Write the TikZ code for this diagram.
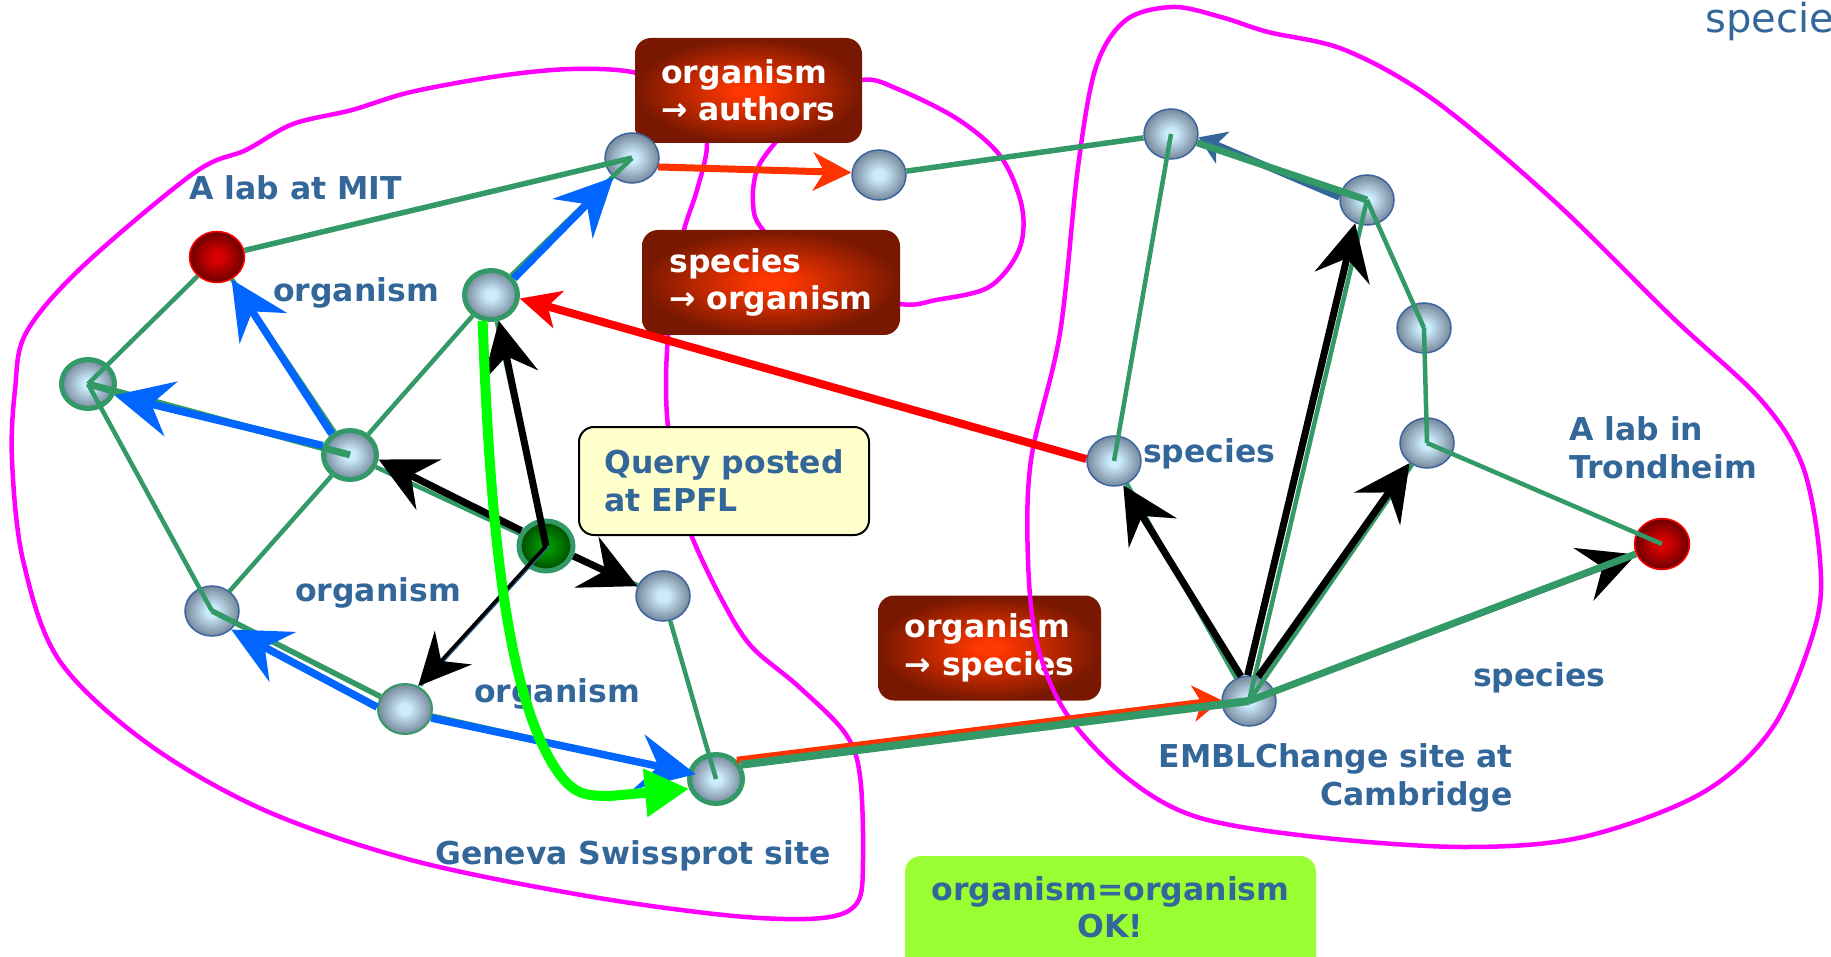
\documentclass[tikz,border=0pt]{standalone}
\usepackage{fontspec}
\setmainfont{DejaVu Sans}
\usetikzlibrary{arrows.meta,shapes.geometric}
\definecolor{ballin}{RGB}{204,236,252}
\definecolor{ballout}{RGB}{118,136,156}
\definecolor{redin}{RGB}{215,0,0}
\definecolor{redout}{RGB}{110,0,0}
\definecolor{dgin}{RGB}{0,150,0}
\definecolor{dgout}{RGB}{0,75,0}
\definecolor{boxin}{RGB}{255,55,0}
\definecolor{boxout}{RGB}{120,24,0}
\definecolor{nodeblue}{RGB}{60,100,160}
\definecolor{edgegreen}{RGB}{51,153,102}
\definecolor{arrowblue}{RGB}{0,102,255}
\definecolor{darkblue}{RGB}{51,102,153}
\definecolor{textblue}{RGB}{51,102,153}
\definecolor{orangered}{RGB}{255,51,0}
\definecolor{limegreen}{RGB}{0,255,0}
\definecolor{loopmag}{RGB}{255,0,255}
\definecolor{queryfill}{RGB}{255,255,204}
\definecolor{okfill}{RGB}{153,255,51}
\pgfdeclareradialshading{ballshade}{\pgfpoint{0bp}{0bp}}{color(0bp)=(ballin); color(5bp)=(ballin); color(25bp)=(ballout); color(50bp)=(ballout)}
\pgfdeclareradialshading{redshade}{\pgfpoint{0bp}{0bp}}{color(0bp)=(redin); color(5bp)=(redin); color(25bp)=(redout); color(50bp)=(redout)}
\pgfdeclareradialshading{dgshade}{\pgfpoint{0bp}{0bp}}{color(0bp)=(dgin); color(5bp)=(dgin); color(25bp)=(dgout); color(50bp)=(dgout)}
\pgfdeclareradialshading{boxshade}{\pgfpoint{0bp}{0bp}}{color(0bp)=(boxin); color(3bp)=(boxin); color(25bp)=(boxout); color(50bp)=(boxout)}
\newcommand\lblfont{\fontsize{31.5}{37.5}\selectfont\bfseries}
\begin{document}
\begin{tikzpicture}[x=1pt,y=-1pt,
  ball/.style={ellipse, inner sep=0pt, minimum width=54pt, minimum height=50pt, shade, shading=ballshade, draw=nodeblue, line width=1.5pt},
  gball/.style={ball, draw=edgegreen, line width=5pt, minimum width=53pt, minimum height=49pt},
  tgball/.style={ball, draw=edgegreen, line width=2pt},
  rball/.style={ball, shading=redshade, draw=red, minimum width=55pt, minimum height=51pt},
  qball/.style={gball, shading=dgshade, minimum width=54pt, minimum height=50pt},
  gedge/.style={draw=edgegreen, line width=4.5pt},
  gmed/.style={draw=edgegreen, line width=5.5pt},
  gthick/.style={draw=edgegreen, line width=7pt},
  barrow/.style={draw=arrowblue, line width=7.5pt, -{Stealth[length=58pt,width=56pt,inset=20pt]}},
  karrow/.style={draw=black, line width=7pt, -{Stealth[length=56pt,width=56pt,inset=20pt]}},
  redbox/.style={rounded corners=16pt, shade, shading=boxshade, inner sep=0pt, text=white, font=\lblfont, align=left},
  lbl/.style={text=textblue, font=\lblfont, inner sep=0pt},
  pinkloop/.style={draw=loopmag, line width=4.5pt}
]
\useasboundingbox (0,0) rectangle (1831,957);

% magenta loops behind boxes
\draw[pinkloop] plot[smooth cycle, tension=0.55] coordinates {
 (572,69) (637,73) (695,97) (707,143) (697,190) (684,230) (672,290) (668,335) (666,380)
 (668,427) (678,490) (692,537) (722,600) (751,646) (798,686) (845,733) (860,776) (863,860)
 (857,903) (822,918) (734,916) (587,896) (411,860) (264,810) (147,743) (59,660) (23,560)
 (12,460) (15,390) (26,333) (82,267) (194,173) (246,150) (293,124) (352,110) (411,92) (499,76)};
\draw[pinkloop] plot[smooth cycle, tension=0.55] coordinates {
 (775,143) (757,170) (753,203) (763,230) (820,285) (900,304) (936,300) (989,287) (1019,250)
 (1022,207) (1001,157) (959,120) (900,90) (862,80) (810,105)};

% boxes
\node[redbox, minimum width=227pt, minimum height=105pt] (aBox) at (748.5,90.5) {organism\\→ authors};
\node[redbox, minimum width=258pt, minimum height=105pt] (sBox) at (771,282.5) {species\\→ organism};
\node[draw=black, line width=2pt, fill=queryfill, rounded corners=15pt, minimum width=290pt, minimum height=108pt, inner sep=0pt, text=textblue, font=\lblfont, align=left] (qBox) at (724,481) {Query posted\\at EPFL};
\node[redbox, minimum width=223pt, minimum height=105pt] (oBox) at (989.5,648) {organism\\→ species};
\node[fill=okfill, rounded corners=16pt, minimum width=411pt, minimum height=130pt, inner sep=0pt] (okBox) at (1110.5,921) {};
\node[lbl, align=center] (okText) at (1110.5,907) {organism=organism\\OK!};

% right magenta loop
\draw[pinkloop] plot[smooth cycle, tension=0.55] coordinates {
 (1173,7) (1221,17) (1268,32) (1345,50) (1434,100) (1553,200) (1672,317) (1761,400) (1803,467)
 (1820,560) (1815,627) (1773,727) (1702,793) (1583,837) (1464,847) (1316,837) (1197,817)
 (1126,777) (1066,713) (1037,643) (1028,560) (1031,460) (1060,333) (1078,167) (1096,67) (1126,20)};

% nodes
\node[rball] (MIT) at (217,257) {};
\node[gball] (nL) at (88,384) {};
\node[gball] (nM) at (350,455) {};
\node[gball] (nO) at (491,295) {};
\node[ball] (nT) at (632,158) {};
\node[ball] (nTR) at (879,175) {};
\node[qball] (nQ) at (546,546) {};
\node[ball] (nR1) at (663,596) {};
\node[ball] (nBL) at (212,611) {};
\node[tgball] (nB) at (405,709) {};
\node[gball] (nG) at (716,779) {};
\node[ball] (cT) at (1171,134) {};
\node[ball] (cTR) at (1367,200) {};
\node[ball] (cR1) at (1424,328) {};
\node[ball] (cR2) at (1427,443) {};
\node[ball] (cS) at (1114,461) {};
\node[rball] (Tr) at (1662,544) {};
\node[ball] (EMBL) at (1249,701) {};

% green edges
\draw[gmed] (MIT) -- (nT.center);
\draw[gedge] (MIT) -- (nL.center);
\draw[gedge] (MIT) -- (nM);
\draw[gthick] (nL.center) -- (nM.center);
\draw[gedge] (nL.center) -- (nBL.center);
\draw[gedge] (nM) -- (nO);
\draw[gedge] (nM) -- (nBL);
\draw[gedge] (nO) -- (nT.center);
\draw[gedge] (nO) -- (nQ);
\draw[gedge] (nM) -- (nQ);
\draw[gedge] (nQ) -- (nR1);
\draw[gmed] (nBL.center) -- (nB);
\draw[draw=edgegreen, line width=3.5pt] (nB) -- (nG);
\draw[gedge] (nR1) -- (nG.center);
\draw[gmed] (nTR) -- (cT);
\draw[gedge] (cT.center) -- (cS.center);
\draw[gedge] (cTR.center) -- (cR1.center);
\draw[gedge] (cR1.center) -- (cR2.center);
\draw[gedge] (cR2.center) -- (Tr.center);
\draw[gedge] (cTR.center) -- (EMBL.center);
\draw[gedge] (cS) -- (EMBL);
\draw[gedge] (cR2) -- (EMBL.center);

% labels
\node[lbl, anchor=base west] (labMIT) at (189,200) {A lab at MIT};
\node[lbl, anchor=base west] (labO1) at (273,302) {organism};
\node[lbl, anchor=base west] (labO2) at (295,601) {organism};
\node[lbl, anchor=base west] (labO3) at (474,702) {organism};
\node[lbl, anchor=base west] (labGen) at (435,864) {Geneva Swissprot site};
\node[lbl, anchor=base west] (labS1) at (1143,462) {species};
\node[lbl, anchor=west, align=left] (labTr) at (1569,448) {A lab in\\Trondheim};
\node[lbl, anchor=base west] (labS2) at (1473,686) {species};
\node[lbl, anchor=east, align=right] (labEMBL) at (1513,778) {EMBLChange site at\\Cambridge};
\node[text=textblue, font=\fontsize{40}{46}\selectfont, inner sep=0pt, anchor=base west] (labTop) at (1705,33) {species};

% blue arrows
\draw[barrow] (nM.131) -- (MIT.-57);
\draw[barrow] (nM.161) -- (nL.-23);
\draw[barrow] (nO.36) -- (nT.-134);
\draw[barrow] (nB.176) -- (nBL.-44);
\draw[barrow, shorten >=-8pt] (nB.-19) -- (nG.167);
\draw[draw=darkblue, line width=7pt, -{Stealth[length=26pt,width=34pt,inset=7pt]}] (cTR.174) -- (cT.-7);
\draw[gthick] (cT) -- (cTR.center);

% black arrows
\draw[karrow] (nQ.center) -- (nO.-73);
\draw[karrow] (nQ.148) -- (nM.-9);
\draw[karrow] (nQ.-20) -- (nR1.159);
\draw[draw=darkblue, line width=1.5pt] ([xshift=3pt]nQ.center) -- ([xshift=3pt]nB.60);
\draw[draw=black, line width=3.5pt, -{Stealth[length=52pt,width=50pt,inset=18pt]}] (nQ.center) -- (nB.60);
\draw[karrow] (EMBL.108) -- (cS.-69);
\draw[karrow] (EMBL.93) -- (cTR.-117);
\draw[karrow] (EMBL.69) -- (cR2.-131);
\draw[karrow, line width=6pt] (EMBL.center) -- (Tr.-158);
\draw[gthick] (EMBL.center) -- (Tr);

% red / orange arrows
\draw[draw=red, line width=8pt, -{Stealth[length=40pt,width=38pt,inset=11pt]}] (cS.176) -- (nO.-7);
\draw[draw=orangered, line width=7pt, -{Stealth[length=38pt,width=38pt,inset=11pt]}] (nT.-19) -- (nTR.175);
\draw[draw=orangered, line width=7pt, -{Stealth[length=28pt,width=36pt,inset=8pt]}] (nG.42) -- (EMBL.178);
\draw[draw=edgegreen, line width=8pt] (nG.30) -- (EMBL.center);

% lime path
\draw[draw=limegreen, line width=10pt, -{Triangle[length=44pt,width=46pt]}]
  (nO.-108) .. controls (490,520) and (505,700) .. (560,775)
  .. controls (575,794) and (585,796) .. (610,796) -- (nG.-160);
\end{tikzpicture}
\end{document}
